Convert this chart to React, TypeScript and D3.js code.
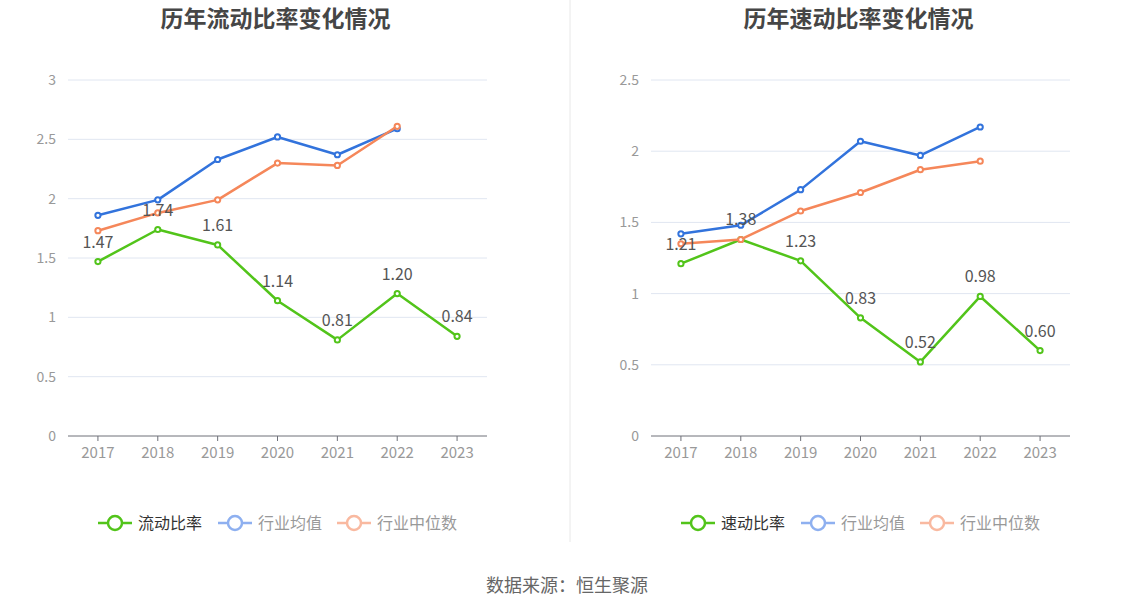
import React from "react";
import * as d3 from "d3";

const years = ["2017", "2018", "2019", "2020", "2021", "2022", "2023"];

const currentRatio = [1.47, 1.74, 1.61, 1.14, 0.81, 1.2, 0.84];
const currentIndustryMean = [1.86, 1.99, 2.33, 2.52, 2.37, 2.59];
const currentIndustryMedian = [1.73, 1.88, 1.99, 2.3, 2.28, 2.61];
const currentTicks = [0, 0.5, 1, 1.5, 2, 2.5, 3];

const quickRatio = [1.21, 1.38, 1.23, 0.83, 0.52, 0.98, 0.6];
const quickIndustryMean = [1.42, 1.48, 1.73, 2.07, 1.97, 2.17];
const quickIndustryMedian = [1.35, 1.38, 1.58, 1.71, 1.87, 1.93];
const quickTicks = [0, 0.5, 1, 1.5, 2, 2.5];

const FONT = "'Noto Sans CJK SC', 'Noto Sans', sans-serif";
const GREEN = "#52c41a";
const BLUE = "#3273dc";
const ORANGE = "#f5875a";

type ChartProps = {
  title: string;
  mainName: string;
  main: number[];
  mean: number[];
  median: number[];
  ticks: number[];
  left: number;
};

function Chart({ title, mainName, main, mean, median, ticks, left }: ChartProps) {
  const x0 = left;
  const x1 = left + 419;
  const x = d3.scaleBand<string>().domain(years).range([x0, x1]);
  const cx = (i: number) => (x(years[i]) as number) + x.bandwidth() / 2;
  const yMax = ticks[ticks.length - 1];
  const y = d3.scaleLinear().domain([0, yMax]).range([436, 80]);
  const line = d3
    .line<number>()
    .x((_, i) => cx(i))
    .y((d) => y(d));

  const series = [
    { data: main, color: GREEN },
    { data: mean, color: BLUE },
    { data: median, color: ORANGE },
  ];
  const centerX = (x0 + x1) / 2;
  const legendX = left + 30;
  const legend = [
    { name: mainName, color: GREEN, text: "#333", dx: 0 },
    { name: "行业均值", color: "#8eb0f0", text: "#999", dx: 120 },
    { name: "行业中位数", color: "#f9b9a0", text: "#999", dx: 239 },
  ];

  return (
    <g>
      <text
        x={centerX - 2}
        y={27}
        textAnchor="middle"
        fontSize={23}
        fontWeight="bold"
        fill="#464646"
        fontFamily={FONT}
      >
        {title}
      </text>
      {ticks.map((t) => (
        <g key={t}>
          {t !== 0 && (
            <line x1={x0} x2={x1} y1={y(t)} y2={y(t)} stroke="#e0e6f1" strokeWidth={1} />
          )}
          <text
            x={x0 - 12}
            y={y(t)}
            dy="0.35em"
            textAnchor="end"
            fontSize={14}
            fill="#999"
            fontFamily={FONT}
          >
            {String(t)}
          </text>
        </g>
      ))}
      <line x1={x0} x2={x1} y1={436} y2={436} stroke="#6e7079" strokeWidth={1} />
      {years.map((yr, i) => (
        <g key={yr}>
          <line x1={cx(i)} x2={cx(i)} y1={436} y2={441} stroke="#6e7079" strokeWidth={1} />
          <text
            x={cx(i)}
            y={458}
            textAnchor="middle"
            fontSize={15}
            fill="#999"
            fontFamily={FONT}
          >
            {yr}
          </text>
        </g>
      ))}
      {series.map((s, si) => (
        <g key={si}>
          <path d={line(s.data) || ""} fill="none" stroke={s.color} strokeWidth={2.5} strokeLinejoin="round" />
          {s.data.map((d, i) => (
            <circle key={i} cx={cx(i)} cy={y(d)} r={2.6} fill="#fff" stroke={s.color} strokeWidth={2} />
          ))}
        </g>
      ))}
      {main.map((d, i) => (
        <text
          key={i}
          x={cx(i)}
          y={y(d) - 14}
          textAnchor="middle"
          fontSize={16}
          fill="#555"
          fontFamily={FONT}
        >
          {d.toFixed(2)}
        </text>
      ))}
      {legend.map((l) => (
        <g key={l.name} transform={`translate(${legendX + l.dx},523)`}>
          <line x1={0} x2={34} y1={0} y2={0} stroke={l.color} strokeWidth={2.5} />
          <circle cx={17} cy={0} r={7} fill="#fff" stroke={l.color} strokeWidth={2.5} />
          <text x={40} y={0} dy="0.35em" fontSize={16} fill={l.text} fontFamily={FONT}>
            {l.name}
          </text>
        </g>
      ))}
    </g>
  );
}

export default function App() {
  return (
    <svg
      width={1134}
      height={612}
      style={{ position: "absolute", left: 0, top: 0, background: "#fff" }}
    >
      <rect x={0} y={0} width={1134} height={612} fill="#fff" />
      <line x1={570} x2={570} y1={0} y2={542} stroke="#e8e8e8" strokeWidth={1} />
      <Chart
        title="历年流动比率变化情况"
        mainName="流动比率"
        main={currentRatio}
        mean={currentIndustryMean}
        median={currentIndustryMedian}
        ticks={currentTicks}
        left={68}
      />
      <Chart
        title="历年速动比率变化情况"
        mainName="速动比率"
        main={quickRatio}
        mean={quickIndustryMean}
        median={quickIndustryMedian}
        ticks={quickTicks}
        left={651}
      />
      <text
        x={567}
        y={592}
        textAnchor="middle"
        fontSize={18}
        fill="#666"
        fontFamily={FONT}
      >
        数据来源：恒生聚源
      </text>
    </svg>
  );
}
